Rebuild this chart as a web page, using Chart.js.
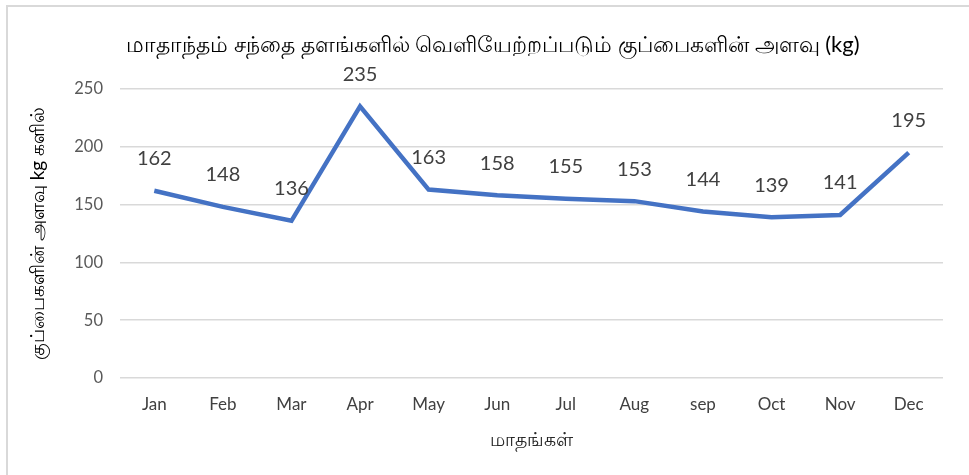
<!DOCTYPE html>
<html>
<head>
<meta charset="utf-8">
<script src="https://cdn.jsdelivr.net/npm/chart.js@4.4.1/dist/chart.umd.min.js"></script>
<style>
  html, body { margin: 0; padding: 0; background: #fff; }
  #wrap { width: 969px; height: 475px; position: relative; }
</style>
</head>
<body>
<div id="wrap"><canvas id="myChart" width="969" height="475"></canvas></div>
<script>
// data
const months = ['Jan', 'Feb', 'Mar', 'Apr', 'May', 'Jun', 'Jul', 'Aug', 'sep', 'Oct', 'Nov', 'Dec'];
const waste = [162, 148, 136, 235, 163, 158, 155, 153, 144, 139, 141, 195];
const yTicks = [0, 50, 100, 150, 200, 250];

const chartTitle = 'மாதாந்தம் சந்தை தளங்களில் வெளியேற்றப்படும் குப்பைகளின் அளவு (kg)';
const xTitle = 'மாதங்கள்';
const yTitle = 'குப்பைகளின் அளவு kg களில்';

const baseFont = "Lato, 'Open Sans', sans-serif";

// frame, title and value labels above the points
const extras = {
    id: 'extras',
    beforeDraw(chart) {
        const ctx = chart.ctx;
        ctx.save();
        ctx.strokeStyle = '#d9d9d9';
        ctx.lineWidth = 2;
        ctx.strokeRect(7, 6, chart.width + 20, chart.height + 20);
        ctx.restore();
    },
    afterDatasetsDraw(chart) {
        const ctx = chart.ctx;
        const meta = chart.getDatasetMeta(0);
        ctx.save();
        ctx.font = '20px ' + baseFont;
        ctx.fillStyle = '#404040';
        ctx.textAlign = 'center';
        ctx.textBaseline = 'middle';
        meta.data.forEach((pt, i) => {
            ctx.fillText(String(waste[i]), pt.x, pt.y - 32);
        });
        ctx.restore();
    },
    afterDraw(chart) {
        const ctx = chart.ctx;
        ctx.save();
        ctx.font = '22px ' + baseFont;
        ctx.fillStyle = '#000';
        ctx.textAlign = 'center';
        ctx.textBaseline = 'middle';
        ctx.fillText(chartTitle, 493, 45);
        ctx.restore();
    }
};

const ctx = document.querySelector('#myChart');

new Chart(ctx, {
    type: 'line',
    data: {
        labels: months,
        datasets: [{
            data: waste,
            borderColor: '#4472C4',
            borderWidth: 4.5,
            pointRadius: 0,
            tension: 0,
            fill: false
        }]
    },
    options: {
        responsive: false,
        animation: false,
        layout: { padding: { left: 0, right: 26, top: 89, bottom: 24 } },
        plugins: {
            legend: { display: false },
            tooltip: { enabled: false },
            title: { display: false }
        },
        scales: {
            x: {
                offset: true,
                grid: { display: false, drawTicks: false, offset: true },
                border: { display: false },
                ticks: {
                    color: '#404040',
                    font: { family: baseFont, size: 17 },
                    padding: 16,
                    maxRotation: 0,
                    autoSkip: false
                },
                title: {
                    display: true,
                    text: xTitle,
                    color: '#262626',
                    font: { family: baseFont, size: 19 },
                    padding: { top: 4, bottom: 0 }
                },
                afterFit(scale) { scale.height = 73; }
            },
            y: {
                min: 0,
                max: 250,
                afterBuildTicks(scale) { scale.ticks = yTicks.map(v => ({ value: v })); },
                grid: { color: '#d9d9d9', lineWidth: 1.5, drawTicks: false },
                border: { display: false },
                ticks: {
                    color: '#595959',
                    font: { family: baseFont, size: 16.5 },
                    padding: 17
                },
                title: {
                    display: true,
                    text: yTitle,
                    color: '#000',
                    font: { family: baseFont, size: 19 },
                    padding: { top: 26, bottom: 0 }
                },
                afterFit(scale) { scale.width = 120; }
            }
        }
    },
    plugins: [extras]
});
</script>
</body>
</html>
